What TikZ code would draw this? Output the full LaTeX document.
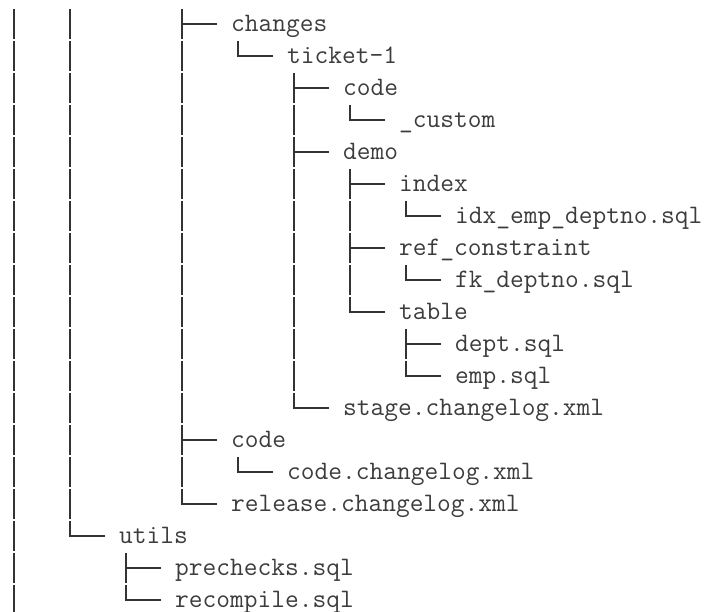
\documentclass[tikz,border=0pt]{standalone}
\usepackage{tikz}

\definecolor{linegray}{HTML}{333333}
\definecolor{filegray}{HTML}{3C3C3C}

\tikzset{
  entry/.style={anchor=base west, inner sep=0pt, text height=23.5pt, text depth=8.5pt,
    font=\ttfamily\fontsize{26.67}{32}\selectfont, text=filegray},
  stem/.style={draw=linegray, line width=2pt, dash pattern=on 29.5pt off 2.5pt, dash phase=30.75pt},
  twig/.style={draw=linegray, line width=2pt},
}

\begin{document}
\begin{tikzpicture}[x=14pt,y=-32pt]

  \useasboundingbox (-0.5,-0.984) rectangle (50,18.14);

  % free ends of the tree above and below
  \coordinate (top) at (0.5,-0.734);
  \coordinate (bot) at (0.5,18.14);

  \node[entry] (changes)   at (16,0)  {changes};
  \node[entry] (ticket)    at (20,1)  {ticket-1};
  \node[entry] (tcode)     at (24,2)  {code};
  \node[entry] (custom)    at (28,3)  {\_custom};
  \node[entry] (demo)      at (24,4)  {demo};
  \node[entry] (index)     at (28,5)  {index};
  \node[entry] (idx)       at (32,6)  {idx\_emp\_deptno.sql};
  \node[entry] (refc)      at (28,7)  {ref\_constraint};
  \node[entry] (fk)        at (32,8)  {fk\_deptno.sql};
  \node[entry] (table)     at (28,9)  {table};
  \node[entry] (dept)      at (32,10) {dept.sql};
  \node[entry] (emp)       at (32,11) {emp.sql};
  \node[entry] (stage)     at (24,12) {stage.changelog.xml};
  \node[entry] (rcode)     at (16,13) {code};
  \node[entry] (codelog)   at (20,14) {code.changelog.xml};
  \node[entry] (release)   at (16,15) {release.changelog.xml};
  \node[entry] (utils)     at (8,16)  {utils};
  \node[entry] (prechecks) at (12,17) {prechecks.sql};
  \node[entry] (recompile) at (12,18) {recompile.sql};

  \draw[stem] (top) -- (bot);

  \foreach \p/\c in {top/changes, top/rcode, top/release, top/utils,
      changes.south/ticket, ticket.south/tcode, ticket.south/demo, ticket.south/stage,
      tcode.south/custom, demo.south/index, demo.south/refc, demo.south/table,
      index.south/idx, refc.south/fk, table.south/dept, table.south/emp,
      rcode.south/codelog, utils.south/prechecks, utils.south/recompile}{
    \path ([xshift=-49pt]\c.west) coordinate (k);
    \draw[stem] (k |- \p) -- (k);
    \draw[twig] ([xshift=-1pt]k) -- ([xshift=-14pt]\c.west);
  }

\end{tikzpicture}
\end{document}
